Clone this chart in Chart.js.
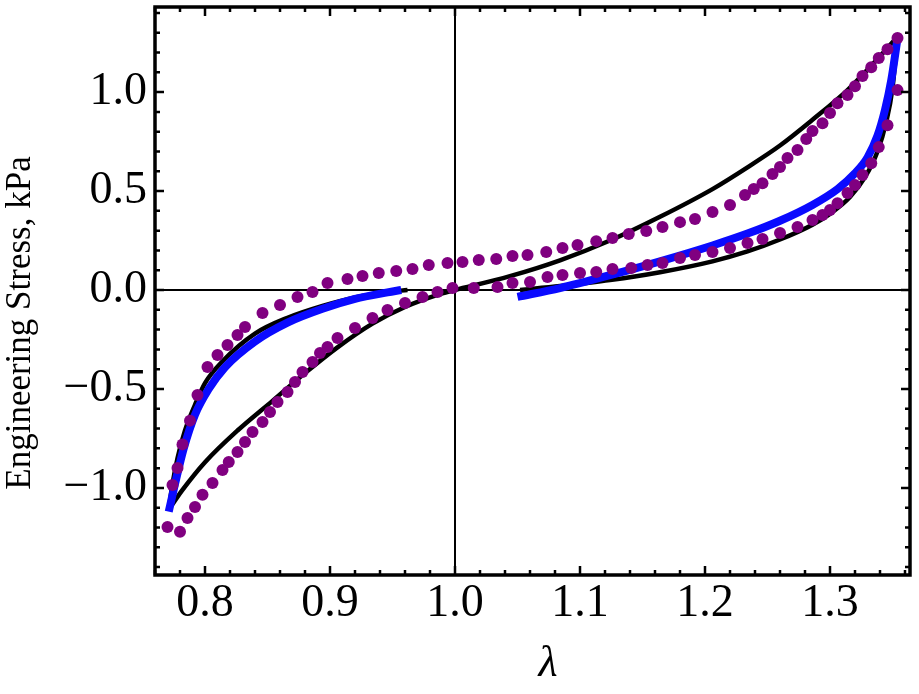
<!DOCTYPE html>
<html>
<head>
<meta charset="utf-8">
<script src="https://cdn.jsdelivr.net/npm/chart.js@4.4.0/dist/chart.umd.min.js"></script>
<style>
html,body{margin:0;padding:0;background:#fff;}
#wrap{width:919px;height:694px;}
</style>
</head>
<body>
<div id="wrap"><canvas id="c" width="919" height="694"></canvas></div>
<script>
// ---- data (λ, engineering stress in kPa) ----
const xTicks = [0.8, 0.9, 1.0, 1.1, 1.2, 1.3];
const yTicks = [-1.0, -0.5, 0.0, 0.5, 1.0];

// black model, compression loading branch
const blackCompLoadX = [0.771, 0.782, 0.800, 0.826, 0.854, 0.880, 0.906, 0.934, 0.960, 0.986, 1.000];
const blackCompLoadY = [-1.11, -1.01, -0.87, -0.71, -0.56, -0.42, -0.29, -0.17, -0.086, -0.025, 0.0];
// black model, compression unloading branch
const blackCompUnloadX = [0.771, 0.774, 0.778, 0.784, 0.792, 0.800, 0.814, 0.840, 0.866, 0.894, 0.920, 0.946, 0.962];
const blackCompUnloadY = [-1.11, -0.98, -0.85, -0.71, -0.58, -0.47, -0.36, -0.22, -0.14, -0.08, -0.037, -0.01, 0.0];
// black model, tension loading branch
const blackTensLoadX = [1.000, 1.044, 1.084, 1.124, 1.164, 1.206, 1.234, 1.260, 1.286, 1.314, 1.334, 1.354];
const blackTensLoadY = [0.0, 0.07, 0.15, 0.25, 0.37, 0.51, 0.62, 0.73, 0.86, 1.01, 1.14, 1.28];
// black model, tension unloading branch
const blackTensUnloadX = [1.052, 1.084, 1.124, 1.164, 1.206, 1.234, 1.260, 1.286, 1.300, 1.316, 1.328, 1.338, 1.345, 1.350, 1.354];
const blackTensUnloadY = [0.0, 0.02, 0.05, 0.09, 0.145, 0.195, 0.255, 0.33, 0.385, 0.47, 0.57, 0.70, 0.85, 1.02, 1.28];

// blue curves
const blueLeftX = [0.771, 0.776, 0.783, 0.792, 0.803, 0.816, 0.840, 0.866, 0.894, 0.920, 0.946, 0.957];
const blueLeftY = [-1.12, -0.98, -0.80, -0.63, -0.50, -0.39, -0.26, -0.165, -0.095, -0.045, -0.012, 0.0];
const blueRightX = [1.050, 1.084, 1.124, 1.164, 1.206, 1.234, 1.260, 1.286, 1.306, 1.320, 1.330, 1.338, 1.344, 1.349, 1.354];
const blueRightY = [-0.035, 0.01, 0.075, 0.145, 0.225, 0.285, 0.35, 0.43, 0.51, 0.59, 0.67, 0.78, 0.91, 1.06, 1.27];

// purple dotted data
const purpleLowerX = [0.780, 0.786, 0.792, 0.798, 0.806, 0.814, 0.819, 0.826, 0.832, 0.838, 0.846, 0.852, 0.858, 0.866, 0.872, 0.878, 0.886, 0.892, 0.898, 0.906, 0.920, 0.934, 0.946, 0.960, 0.974, 0.986, 0.998,
  1.015, 1.034, 1.046, 1.060, 1.074, 1.086, 1.100, 1.113, 1.126, 1.141, 1.154, 1.166, 1.180, 1.192, 1.206, 1.220, 1.234, 1.246, 1.260, 1.274, 1.286, 1.294, 1.300, 1.306, 1.314, 1.320, 1.326, 1.333, 1.339, 1.346, 1.354];
const purpleLowerY = [-1.222, -1.152, -1.096, -1.035, -0.975, -0.909, -0.869, -0.818, -0.768, -0.717, -0.667, -0.616, -0.566, -0.515, -0.465, -0.414, -0.364, -0.318, -0.288, -0.242, -0.192, -0.141, -0.101, -0.066, -0.035, -0.010, 0.010,
  0.010, 0.015, 0.035, 0.040, 0.066, 0.076, 0.086, 0.091, 0.106, 0.111, 0.126, 0.136, 0.162, 0.177, 0.192, 0.212, 0.237, 0.258, 0.288, 0.318, 0.354, 0.379, 0.404, 0.439, 0.490, 0.530, 0.581, 0.641, 0.722, 0.833, 1.010];
const purpleUpperX = [0.770, 0.774, 0.778, 0.782, 0.788, 0.794, 0.802, 0.810, 0.818, 0.826, 0.832, 0.846, 0.860, 0.874, 0.886, 0.898, 0.914, 0.926, 0.939, 0.953, 0.966, 0.979, 0.994,
  1.006, 1.019, 1.033, 1.046, 1.058, 1.073, 1.086, 1.098, 1.113, 1.126, 1.139, 1.153, 1.166, 1.180, 1.192, 1.206, 1.220, 1.232, 1.239, 1.246, 1.254, 1.260, 1.266, 1.274, 1.281, 1.286, 1.294, 1.300, 1.306, 1.314, 1.320, 1.326, 1.333, 1.339, 1.346, 1.354];
const purpleUpperY = [-1.197, -0.985, -0.899, -0.78, -0.66, -0.53, -0.389, -0.328, -0.278, -0.227, -0.187, -0.116, -0.076, -0.035, -0.010, 0.035, 0.056, 0.071, 0.086, 0.096, 0.106, 0.126, 0.136,
  0.141, 0.152, 0.157, 0.172, 0.177, 0.192, 0.212, 0.227, 0.247, 0.263, 0.283, 0.298, 0.318, 0.343, 0.359, 0.394, 0.429, 0.480, 0.510, 0.540, 0.586, 0.621, 0.667, 0.707, 0.763, 0.803, 0.843, 0.894, 0.944, 0.985, 1.030, 1.081, 1.126, 1.172, 1.217, 1.273];

const zip = (xs, ys) => xs.map((x, i) => ({x: x, y: ys[i]}));
const SERIF = '"Liberation Serif", "Times New Roman", serif';
const fmt = v => { const s = Math.abs(v).toFixed(1); return v < -1e-9 ? '\u2212' + s : s; };

function line(xs, ys, color, width, order) {
  return {data: zip(xs, ys), showLine: true, borderColor: color, backgroundColor: color,
    borderWidth: width, pointRadius: 0, cubicInterpolationMode: 'monotone', order: order};
}
function dots(xs, ys) {
  return {data: zip(xs, ys), showLine: false, pointRadius: 6, pointHoverRadius: 6,
    pointStyle: 'circle', backgroundColor: '#800080', borderColor: '#800080', borderWidth: 0, order: 0};
}

const framePlugin = {
  id: 'frame',
  beforeDatasetsDraw(chart) {
    const {ctx, chartArea: a, scales: {x, y}} = chart;
    ctx.save();
    ctx.strokeStyle = '#000'; ctx.lineWidth = 2;
    const x1 = x.getPixelForValue(1.0), y0 = y.getPixelForValue(0);
    ctx.beginPath();
    ctx.moveTo(x1, a.top); ctx.lineTo(x1, a.bottom);
    ctx.moveTo(a.left, y0); ctx.lineTo(a.right, y0);
    ctx.stroke();
    ctx.restore();
  },
  afterDatasetsDraw(chart) {
    const {ctx, chartArea: a, scales: {x, y}} = chart;
    ctx.save();
    ctx.strokeStyle = '#000';
    ctx.lineWidth = 2.5;
    ctx.beginPath();
    for (let i = 38; i <= 68; i++) {
      const v = i * 0.02;
      if (v < x.min || v > x.max) continue;
      const px = x.getPixelForValue(v);
      const len = (i % 5 === 0) ? 9 : 5;
      ctx.moveTo(px, a.bottom); ctx.lineTo(px, a.bottom - len);
      ctx.moveTo(px, a.top); ctx.lineTo(px, a.top + len);
    }
    for (let i = -14; i <= 14; i++) {
      const v = i * 0.1;
      if (v < y.min || v > y.max) continue;
      const py = y.getPixelForValue(v);
      const len = (i % 5 === 0) ? 9 : 5;
      ctx.moveTo(a.left, py); ctx.lineTo(a.left + len, py);
      ctx.moveTo(a.right, py); ctx.lineTo(a.right - len, py);
    }
    ctx.stroke();
    ctx.lineWidth = 3.5;
    ctx.strokeRect(a.left, a.top, a.right - a.left, a.bottom - a.top);
    ctx.restore();
  },
  afterDraw(chart) {
    const {ctx} = chart;
    ctx.save();
    ctx.fillStyle = '#000';
    ctx.textAlign = 'center'; ctx.textBaseline = 'middle';
    ctx.font = '35px ' + SERIF;
    ctx.translate(21, 323); ctx.rotate(-Math.PI / 2);
    ctx.fillText('Engineering Stress, kPa', 0, 0);
    ctx.restore();
    ctx.save();
    ctx.fillStyle = '#000';
    ctx.textAlign = 'center'; ctx.textBaseline = 'middle';
    ctx.font = 'italic 44px ' + SERIF;
    ctx.fillText('\u03bb', 548, 664);
    ctx.restore();
  }
};

new Chart(document.getElementById('c'), {
  type: 'scatter',
  data: {datasets: [
    dots(purpleUpperX, purpleUpperY),
    dots(purpleLowerX, purpleLowerY),
    line(blueLeftX, blueLeftY, '#0a0aff', 8, 1),
    line(blueRightX, blueRightY, '#0a0aff', 8, 1),
    line(blackCompLoadX, blackCompLoadY, '#000', 4.5, 2),
    line(blackCompUnloadX, blackCompUnloadY, '#000', 4.5, 2),
    line(blackTensLoadX, blackTensLoadY, '#000', 4.5, 2),
    line(blackTensUnloadX, blackTensUnloadY, '#000', 4.5, 2)
  ]},
  options: {
    responsive: false, animation: false, devicePixelRatio: 1,
    layout: {padding: {left: 0, right: 9, top: 7, bottom: 0}},
    plugins: {legend: {display: false}, tooltip: {enabled: false}},
    scales: {
      x: {type: 'linear', min: 0.76, max: 1.364,
        grid: {display: false, drawTicks: false}, border: {display: false},
        afterBuildTicks: s => { s.ticks = xTicks.map(v => ({value: v})); },
        afterFit: s => { s.height = 119; s.paddingLeft = 0; s.paddingRight = 0; },
        ticks: {padding: 1, color: '#000', font: {family: SERIF, size: 46}, maxRotation: 0,
          callback: v => fmt(v)}},
      y: {type: 'linear', min: -1.44, max: 1.43,
        grid: {display: false, drawTicks: false}, border: {display: false},
        afterBuildTicks: s => { s.ticks = yTicks.map(v => ({value: v})); },
        afterFit: s => { s.width = 155; s.paddingTop = 0; s.paddingBottom = 0; },
        ticks: {padding: 8, color: '#000', font: {family: SERIF, size: 46},
          callback: v => fmt(v)}}
    }
  },
  plugins: [framePlugin]
});
</script>
</body>
</html>
